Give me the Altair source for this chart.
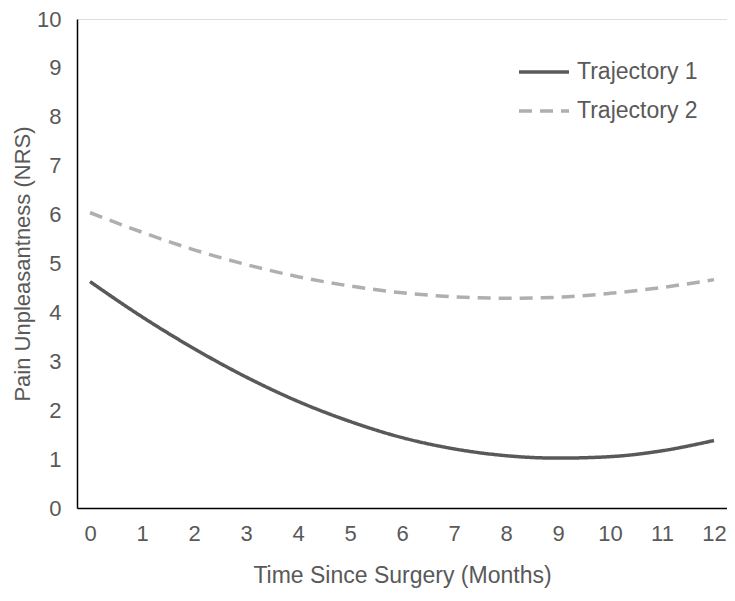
import altair as alt
import pandas as pd

months = list(range(13))
traj1 = [4.63, 3.91, 3.26, 2.68, 2.18, 1.77, 1.44, 1.21, 1.07, 1.02, 1.05, 1.17, 1.38]
traj2 = [6.04, 5.64, 5.28, 4.98, 4.73, 4.54, 4.40, 4.32, 4.29, 4.31, 4.39, 4.51, 4.67]
series_names = ["Trajectory 1", "Trajectory 2"]
x_ticks = list(range(13))
y_ticks = list(range(11))

rows = []
for name, vals in zip(series_names, [traj1, traj2]):
    for m, v in zip(months, vals):
        rows.append({"Month": m, "Value": v, "Series": name})
df = pd.DataFrame(rows)

FONT = "Liberation Sans"
TXT = "#595959"

chart = alt.Chart(df).mark_line(strokeWidth=3.5, interpolate="monotone").encode(
    x=alt.X("Month:Q",
            scale=alt.Scale(domain=[-0.25, 12.25], nice=False, zero=False),
            axis=alt.Axis(values=x_ticks, title="Time Since Surgery (Months)",
                          grid=False, ticks=False, labelPadding=15, titlePadding=20,
                          domainColor="#000000", domainWidth=1.5,
                          labelFontSize=22, titleFontSize=23, labelColor=TXT, titleColor=TXT,
                          labelFont=FONT, titleFont=FONT, titleFontWeight="normal")),
    y=alt.Y("Value:Q",
            scale=alt.Scale(domain=[0, 10], nice=False),
            axis=alt.Axis(values=y_ticks, title="Pain Unpleasantness (NRS)",
                          grid=False, ticks=False, labelPadding=16, titlePadding=2,
                          domainColor="#000000", domainWidth=1.5,
                          labelFontSize=22, titleFontSize=22, labelColor=TXT, titleColor=TXT,
                          labelFont=FONT, titleFont=FONT, titleFontWeight="normal")),
    color=alt.Color("Series:N",
                    scale=alt.Scale(domain=series_names, range=["#595959", "#AFAFAF"]),
                    legend=alt.Legend(title=None, orient="none", legendX=440, legendY=26,
                                      symbolType="stroke", symbolSize=2500, symbolStrokeWidth=3.5,
                                      labelFontSize=23, labelColor=TXT, labelFont=FONT,
                                      labelOffset=6, rowPadding=-5, padding=0)),
    strokeDash=alt.StrokeDash("Series:N",
                              scale=alt.Scale(domain=series_names, range=[[1, 0], [13, 8]]),
                              legend=None),
).properties(
    width=650, height=489,
    autosize=alt.AutoSizeParams(type="none"),
    padding={"left": 69, "top": 11, "right": 0, "bottom": 82},
).configure_view(stroke=None).configure(background="white")

chart.save("out.html", embed_options={"renderer": "svg", "actions": False})
